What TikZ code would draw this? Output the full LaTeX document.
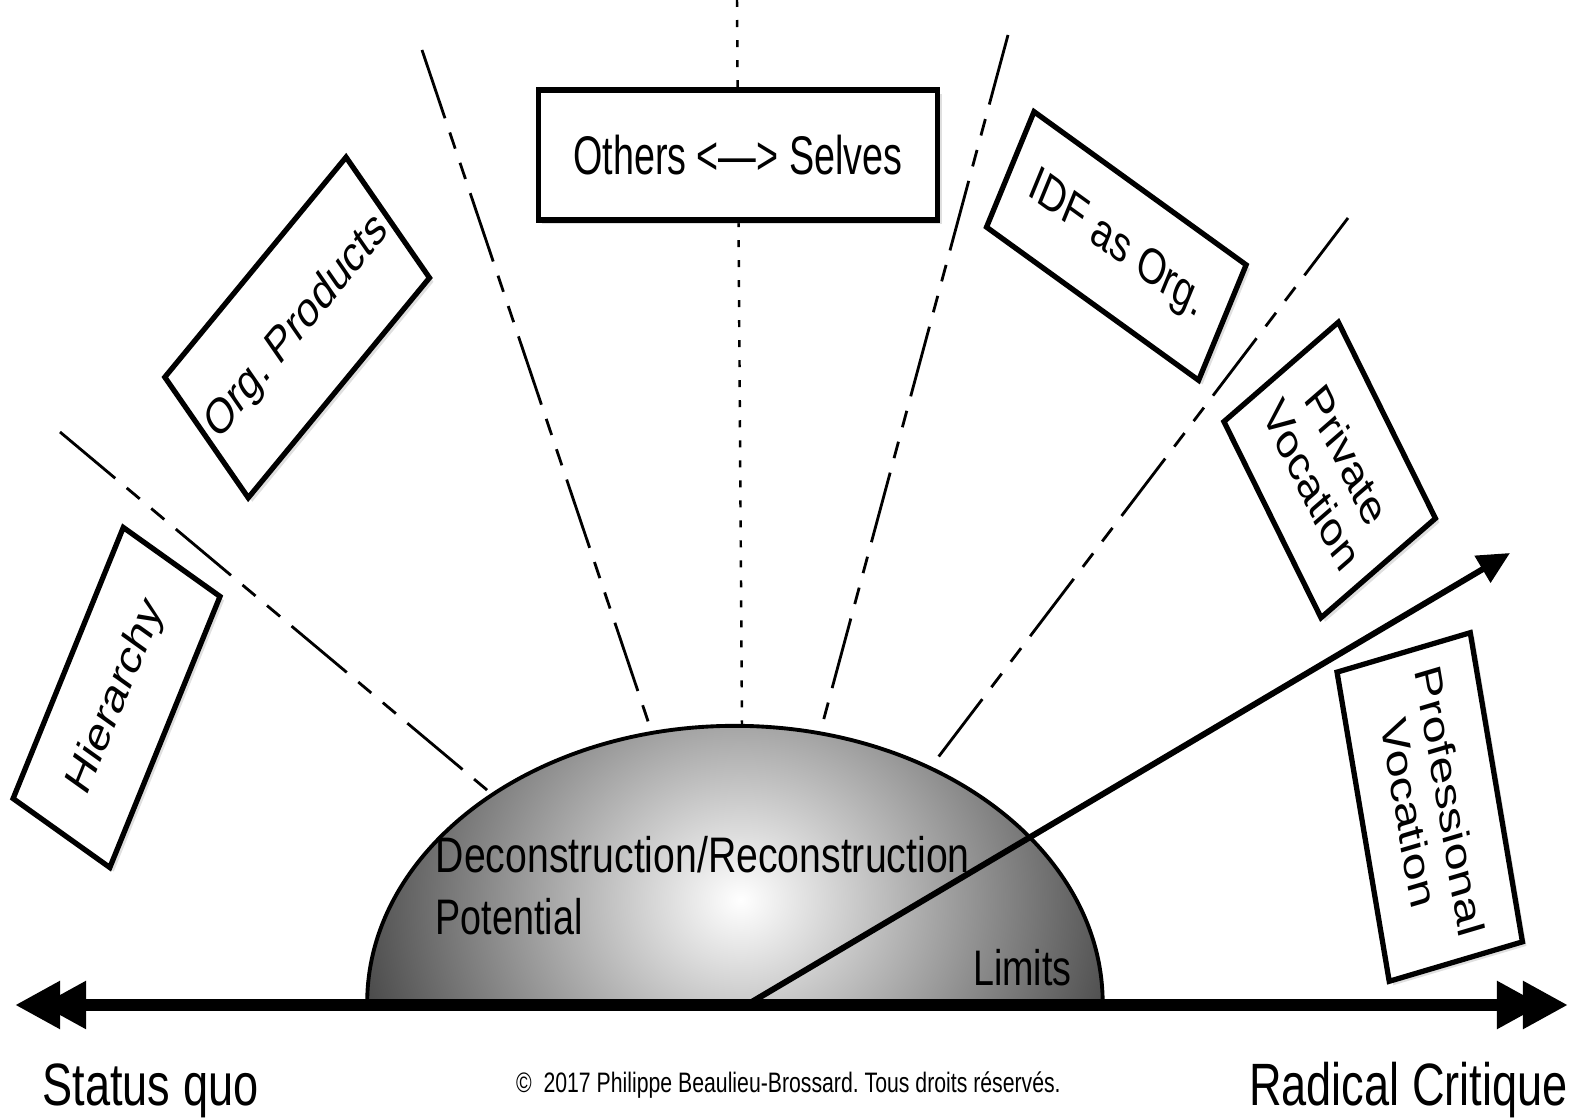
\documentclass[tikz,border=0pt]{standalone}
\usepackage{fontspec}
\setmainfont{Liberation Sans}
\usepackage{graphicx}
\usetikzlibrary{arrows.meta,shadows}
\frenchspacing

\tikzset{
  label box/.style={draw,fill=white,line width=1.5pt,align=center,inner sep=0pt,
    font=\fontsize{14.2}{15.8}\selectfont,
    drop shadow={opacity=0.25,shadow xshift=0.04cm,shadow yshift=-0.04cm}},
  dome text/.style={inner sep=0pt,anchor=base west,font=\fontsize{14.2}{15.6}\selectfont},
  end text/.style={inner sep=0pt,anchor=base west,font=\fontsize{17}{20}\selectfont},
  dash ray/.style={line width=0.8pt,dash pattern=on 0.72cm off 0.15cm on 0.17cm off 0.15cm on 0.17cm off 0.15cm},
  dot ray/.style={line width=0.7pt,dash pattern=on 0.07cm off 0.13cm},
  main axis/.style={line width=3.4pt,
    {Triangle[length=.45cm,width=.45cm,sep=-.19cm]Triangle[length=.45cm,width=.45cm,sep=-.19cm]}-{Triangle[length=.45cm,width=.45cm,sep=-.19cm]Triangle[length=.45cm,width=.45cm,sep=-.19cm]}},
  drift/.style={line width=1.7pt,-{Triangle[length=0.32cm,width=0.3cm]}}
}

\begin{document}
\begin{tikzpicture}[x=0.01cm,y=-0.01cm]
\useasboundingbox (0,0) rectangle (1569,1119);
\coordinate (r1a) at (60,432);   \coordinate (r1b) at (493,795);
\coordinate (r2a) at (422,50);   \coordinate (r2b) at (651,730);
\coordinate (r3a) at (737,0);    \coordinate (r3b) at (742,726);
\coordinate (r4a) at (1008,35);  \coordinate (r4b) at (823,722);
\coordinate (r5a) at (1348,218); \coordinate (r5b) at (930,768);
\coordinate (sqend) at (34,1005); \coordinate (rcend) at (1549,1005);
\coordinate (driftS) at (750,1003); \coordinate (driftE) at (1510,553);

\draw[dash ray] (r1a) -- (r1b);
\draw[dash ray] (r2a) -- (r2b);
\draw[dot ray] (r3a) -- (r3b);
\draw[dash ray] (r4a) -- (r4b);
\draw[dash ray] (r5a) -- (r5b);

\begin{scope}[x=0.013245cm,xscale=0.755,every node/.append style={transform shape}]
\def\dome{(367,1003) arc[start angle=180,end angle=0,x radius=4.868cm,y radius=2.77cm] -- cycle}
  \begin{scope}
    \clip \dome;
    \shade[inner color=white,outer color=black!85] (740,900) ellipse[x radius=6.2cm,y radius=4.2cm];
  \end{scope}
  \draw[line width=1.1pt] \dome;

  \node[label box,minimum width=3.077cm,minimum height=1.454cm,rotate=61.7] (hier) at (116.5,697.5) {Hierarchy};
  \node[label box,minimum width=3.254cm,minimum height=1.635cm,rotate=42.5] (orgp) at (297,327.5) {Org. Products};
  \node[label box,minimum width=5.285cm,minimum height=1.3cm] (others) at (737.5,155) {\scalebox{1}[1.09]{Others <—> Selves}};
  \node[label box,minimum width=3.198cm,minimum height=1.314cm,rotate=-28.6] (idf) at (1115.75,246) {IDF as Org.};
  \node[label box,minimum width=2.344cm,minimum height=1.811cm,rotate=-56.75] (priv) at (1329,470) {Private\\Vocation};
  \node[label box,minimum width=3.166cm,minimum height=1.807cm,rotate=-77.4] (prof) at (1429,807) {Professional\\Vocation};

  \node[dome text] (decon) at (435,873) {\scalebox{1.04}[1]{Deconstruction/Reconstruction}};
  \node[dome text] (pot) at (435,935) {Potential};
  \node[dome text] (lim) at (972,985) {Limits};

  \node[end text] (sq) at (42,1106) {Status quo};
  \node[end text] (rc) at (1248,1106) {Radical Critique};
  \node[inner sep=0pt,anchor=base,font=\fontsize{8}{9.6}\selectfont] (copy) at (788,1093) {©\ \ 2017 Philippe Beaulieu-Brossard. Tous droits réservés.};
\end{scope}

\draw[main axis] (sqend) -- (rcend);
\draw[drift] (driftS) -- (driftE);
\end{tikzpicture}
\end{document}
